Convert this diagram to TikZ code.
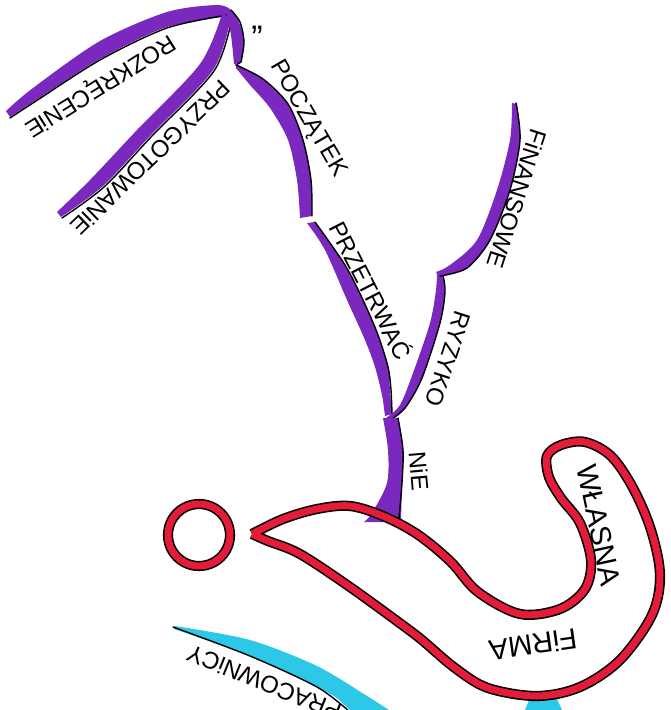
\documentclass[tikz,border=0pt]{standalone}
\usepackage{fontspec}
\setmainfont{Liberation Sans}
\definecolor{pur}{RGB}{122,40,190}
\definecolor{rd}{RGB}{228,28,58}
\definecolor{cy}{RGB}{45,200,232}
\tikzset{
  band/.style={fill=pur},
  cyband/.style={fill=cy},
  edgeline/.style={draw=black, line width=1.4pt, line cap=round, line join=round},
  ring/.style={draw=black, line width=1.6pt, double=rd, double distance=7pt, line join=round},
  lbl/.style={font=\fontsize{24}{24}\selectfont, inner sep=0pt},
  biglbl/.style={font=\fontsize{29}{29}\selectfont, inner sep=0pt}
}
\begin{document}
\begin{tikzpicture}[x=1pt,y=-1pt]
\useasboundingbox (0,0) rectangle (670,710);
\clip (0,0) rectangle (670,710);

% ROZKRECENIE branch
\fill[band] plot[smooth] coordinates {(6,111) (33,88) (100,41) (167,12) (217,5) (231,10)}
  -- plot[smooth] coordinates {(231,16) (167,27) (100,59) (33,102) (10,117)} -- cycle;
\draw[edgeline] plot[smooth] coordinates {(10,118) (33,103) (100,60) (167,28) (228,15)};

% PRZYGOTOWANIE branch
\fill[band] plot[smooth] coordinates {(222,14) (200,64) (137,130) (90,180) (57,212)}
  -- plot[smooth] coordinates {(61,217) (103,186) (150,136) (213,70) (231,17)} -- cycle;
\draw[edgeline] plot[smooth] coordinates {(62,218) (104,187) (151,137) (214,71) (232,18)};

% trunk top
\fill[band] plot[smooth] coordinates {(226,12) (231,35) (234,64)}
  -- plot[smooth] coordinates {(241,63) (244,40) (238,20) (230,10)} -- cycle;
\draw[edgeline] plot[smooth] coordinates {(231,10) (240,22) (244,42) (241,62)} -- (236,65);

% POCZATEK
\fill[band] plot[smooth] coordinates {(236,64) (263,79) (288,104) (303,140) (311,180) (312,216)}
  -- plot[smooth] coordinates {(300,218) (297,180) (288,140) (270,108) (250,85) (236,68)} -- cycle;
\draw[edgeline] plot[smooth] coordinates {(236,65) (263,79) (288,104) (303,140) (311,180) (312,216)};

% PRZETRWAC
\fill[band] plot[smooth] coordinates {(307,223) (325,250) (347,300) (365,340) (375,367) (382,395) (385,416)}
  -- plot[smooth] coordinates {(392,414) (390,390) (388,367) (378,335) (363,300) (345,265) (315,222)} -- cycle;
\draw[edgeline] plot[smooth] coordinates {(315,222) (345,265) (363,300) (378,335) (388,367) (391,390) (392,414)};

% RYZYKO
\fill[band] plot[smooth] coordinates {(386,418) (400,405) (413,373) (430,323) (436,290) (437,272)}
  -- plot[smooth] coordinates {(443,275) (445,292) (440,323) (422,378) (405,408) (392,420)} -- cycle;
\draw[edgeline] plot[smooth] coordinates {(443,275) (445,292) (440,323) (422,378) (405,408) (390,420)};

% FINANSOWE
\fill[band] plot[smooth] coordinates {(512,103) (510,140) (497,190) (477,240) (450,265) (436,272)}
  -- plot[smooth] coordinates {(440,276) (467,268) (490,240) (510,190) (520,140) (517,104)} -- cycle;
\draw[edgeline] plot[smooth] coordinates {(440,276) (467,268) (490,240) (510,190) (520,140) (516,103)};

% NIE
\fill[band] plot[smooth] coordinates {(383,418) (388,450) (387,483) (372,513) (364,522)}
  -- plot[smooth] coordinates {(401,522) (402,483) (403,450) (398,418)} -- cycle;
\draw[edgeline] plot[smooth] coordinates {(398,418) (403,450) (402,483) (399,518)};

% cyan branches
\fill[cyband] plot[smooth] coordinates {(175,626) (250,640) (317,666) (367,696) (392,712)}
  -- (352,712) -- plot[smooth] coordinates {(337,698) (317,687) (250,656) (174,629)} -- cycle;
\draw[edgeline] plot[smooth] coordinates {(173,627) (250,656) (317,687) (350,712)};
\fill[cyband] (524,712) -- (530,698) -- (556,697) -- (563,712) -- cycle;

% red hook and dot
\draw[ring] plot[smooth, tension=0.55] coordinates {(252,534) (283,519) (317,509) (350,506) (383,516) (417,534) (450,561) (478,592) (520,614) (560,609) (585,589) (591,560) (580,523) (561,498) (549,477) (547,456) (561,445) (585,442) (611,456) (633,488) (651,530) (660,575) (652,615) (620,660) (580,687) (537,696) (488,688) (455,668) (422,640) (401,624) (350,587) (300,554) (268,541) (252,534)};
\draw[ring] (199,535) circle (31);

% labels
\node[lbl, rotate=212] (rozk) at (100,85) {ROZKRĘCENiE};
\node[lbl, rotate=224] (przy) at (151,158) {PRZYGOTOWANiE};
\node[font=\fontsize{34}{34}\selectfont, inner sep=0pt] (quote) at (257,38) {"};
\node[lbl, rotate=-60] (pocz) at (308,119) {POCZĄTEK};
\node[lbl, rotate=-63] (przet) at (372,290) {PRZETRWAĆ};
\node[lbl, rotate=-108] (ryz) at (448,359) {RYZYKO};
\node[lbl, rotate=-108] (fin) at (517,199) {FiNANSOWE};
\node[lbl, rotate=-85] (nie) at (419,471) {NiE};
\node[biglbl, rotate=-78] (wlasna) at (599,525) {WŁASNA};
\node[biglbl, rotate=188] (firma) at (533,645) {FiRMA};
\node[lbl, rotate=158] (prac) at (264,683) {PRACOWNiCY};
\end{tikzpicture}
\end{document}
